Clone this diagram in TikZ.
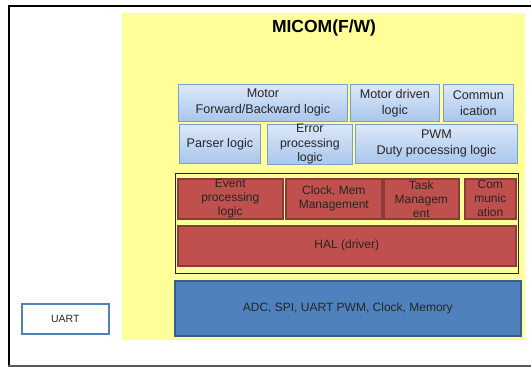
\documentclass[tikz,border=0pt]{standalone}
\usepackage{fontspec}
\setmainfont{Liberation Sans}
\definecolor{yel}{HTML}{FFFF99}
\definecolor{bluetop}{HTML}{DCE8F8}
\definecolor{bluebot}{HTML}{A9C6EC}
\definecolor{bluebd}{HTML}{7C9DD0}
\definecolor{redfill}{HTML}{C0504D}
\definecolor{redbd}{HTML}{8C3A37}
\definecolor{hwfill}{HTML}{4F81BD}
\definecolor{hwbd}{HTML}{385D8A}
\definecolor{txt}{HTML}{262626}
\tikzset{
  x=1pt, y=-1pt,
  base/.style={anchor=north west, inner sep=0pt, align=center, text=txt},
  bluebox/.style={base, draw=bluebd, line width=0.8pt, top color=bluetop, bottom color=bluebot,
    font=\fontsize{12.6}{16}\selectfont},
  redbox/.style={base, draw=redbd, line width=1.6pt, fill=redfill,
    font=\fontsize{12}{14}\selectfont},
  hwbox/.style={base, draw=hwbd, line width=1.6pt, fill=hwfill, font=\fontsize{12}{14}\selectfont},
  uartbox/.style={base, draw=hwfill, line width=1.5pt, fill=white, font=\fontsize{10.5}{13}\selectfont},
}
\begin{document}
\begin{tikzpicture}
\useasboundingbox (0,0) rectangle (531,367);
\fill[white] (0,0) rectangle (531,367);
% outer frame
\draw[black, line width=2.5pt] (8.5,6) -- (531,6);
\draw[black, line width=2pt] (8.5,5) -- (8.5,366);
\draw[black!65, line width=1.2pt] (8,366) -- (531,366);
% yellow area
\node[base, fill=yel, minimum width=403pt, minimum height=327pt] (micom) at (122,13) {};
\node[font=\bfseries\fontsize{17.5}{20}\selectfont, text=black] (title) at (324,28) {MICOM(F/W)};
% application layer
\node[bluebox, minimum width=169pt, minimum height=37pt] (motor) at (178,84) {Motor\\Forward/Backward logic};
\node[bluebox, minimum width=89pt, minimum height=37pt] (driven) at (350,84) {Motor driven\\logic};
\node[bluebox, minimum width=70pt, minimum height=37pt] (commun) at (443,84) {Commun\\ication};
\node[bluebox, minimum width=81pt, minimum height=39pt] (parser) at (179,124) {Parser logic};
\node[bluebox, minimum width=85pt, minimum height=39pt, font=\fontsize{12.3}{14.5}\selectfont] (error) at (267,124) {Error\\processing\\logic};
\node[bluebox, minimum width=162pt, minimum height=39pt] (pwm) at (355,124) {PWM\\Duty processing logic};
% middle layer frame
\node[base, draw=black!85, line width=0.8pt, minimum width=343pt, minimum height=100pt] (mid) at (175,173) {};
\node[redbox, minimum width=105pt, minimum height=40pt] (event) at (177,178) {Event\\processing\\logic};
\node[redbox, minimum width=96pt, minimum height=40pt] (clock) at (285,178) {Clock, Mem\\Management};
\node[redbox, minimum width=75pt, minimum height=40pt] (task) at (383,178) {Task\\Managem\\ent};
\node[redbox, minimum width=51pt, minimum height=40pt] (com) at (464,178) {Com\\munic\\ation};
\node[redbox, minimum width=338pt, minimum height=40pt] (hal) at (177,225) {HAL (driver)};
% hardware
\node[hwbox, minimum width=346pt, minimum height=55pt] (hw) at (174,280) {ADC, SPI, UART PWM, Clock, Memory};
\node[uartbox, minimum width=87pt, minimum height=30pt] (uart) at (21,303) {UART};
\end{tikzpicture}
\end{document}
